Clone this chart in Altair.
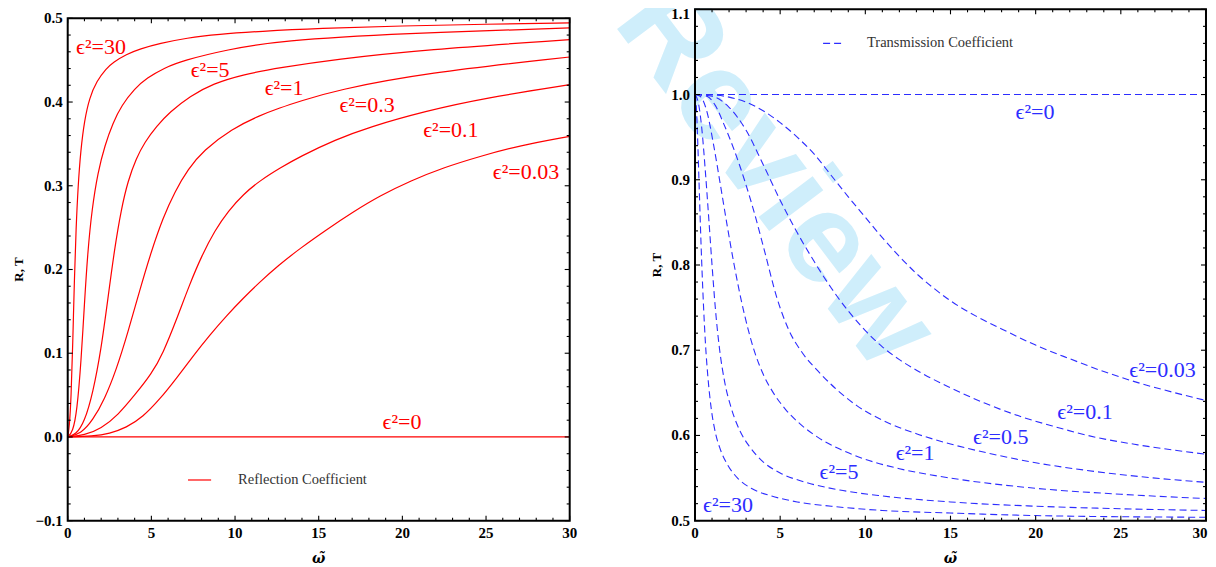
import altair as alt
import pandas as pd

# ---------------- Reflection coefficient R (left panel) ----------------
r_names = ["30", "5", "1", "0.3", "0.1", "0.03", "0"]
r30_x = [0, 0.1, 0.2, 0.3, 0.4, 0.5, 0.62, 0.78, 1.0, 1.3, 1.73, 2.3, 2.72, 3.5, 4.32, 5.5, 7.1, 9, 11.5, 15, 20, 25, 30]
r30_y = [0, 0.012, 0.045, 0.11, 0.19, 0.25, 0.3, 0.343, 0.378, 0.405, 0.425, 0.44, 0.4475, 0.457, 0.4635, 0.47, 0.4765, 0.481, 0.4845, 0.488, 0.491, 0.493, 0.4945]
r5_x = [0, 0.3, 0.55, 0.8, 1.0, 1.2, 1.45, 1.8, 2.23, 2.7, 3.22, 4.0, 4.72, 5.8, 6.9, 9.49, 12.67, 20, 30]
r5_y = [0, 0.006, 0.03, 0.09, 0.16, 0.222, 0.272, 0.316, 0.349, 0.375, 0.396, 0.416, 0.4286, 0.441, 0.4496, 0.4625, 0.4733, 0.482, 0.4885]
r1_x = [0, 0.5, 1.0, 1.5, 2.0, 2.4, 2.8, 3.2, 3.6, 4.1, 4.6, 5.3, 6.1, 7.3, 8.69, 10.5, 12.67, 16, 21.33, 30]
r1_y = [0, 0.003, 0.018, 0.052, 0.105, 0.165, 0.225, 0.272, 0.306, 0.333, 0.352, 0.371, 0.388, 0.407, 0.422, 0.433, 0.441, 0.451, 0.4625, 0.4745]
r03_x = [0, 0.8, 1.5, 2.2, 2.9, 3.6, 4.3, 5.0, 5.7, 6.4, 7.2, 8.1, 9.8, 11.48, 12.67, 13.89, 16, 21.33, 30]
r03_y = [0, 0.004, 0.02, 0.045, 0.08, 0.125, 0.175, 0.222, 0.262, 0.293, 0.32, 0.342, 0.368, 0.384, 0.393, 0.401, 0.414, 0.4347, 0.4538]
r01_x = [0, 1.0, 2.0, 3.0, 4.0, 5.0, 5.7, 6.5, 7.3, 8.0, 8.8, 9.6, 10.5, 11.48, 12.67, 13.89, 16, 18, 21.33, 25, 30]
r01_y = [0, 0.002, 0.01, 0.026, 0.05, 0.075, 0.1, 0.14, 0.183, 0.216, 0.247, 0.27, 0.29, 0.306, 0.321, 0.335, 0.355, 0.37, 0.389, 0.405, 0.4207]
r003_x = [0, 1.5, 2.5, 3.5, 4.5, 5.5, 6.5, 7.5, 8.5, 9.5, 10.5, 11.48, 12.6, 13.87, 15.5, 17, 18.65, 20.5, 22.5, 24.6, 27, 30]
r003_y = [0, 0.001, 0.004, 0.011, 0.024, 0.045, 0.07, 0.097, 0.122, 0.145, 0.166, 0.185, 0.205, 0.225, 0.248, 0.268, 0.288, 0.306, 0.322, 0.335, 0.348, 0.359]
r0_x = [0, 30]
r0_y = [0, 0]

# ---------------- Transmission coefficient T (right panel) ----------------
t_names = ["30", "5", "1", "0.5", "0.1", "0.03", "0"]
t30_x = [0, 0.08, 0.16, 0.24, 0.32, 0.4, 0.5, 0.62, 0.76, 0.95, 1.2, 1.5, 1.9, 2.5, 3.3, 4.5, 6, 8, 11, 15, 20, 30]
t30_y = [1.0, 0.985, 0.945, 0.895, 0.845, 0.8, 0.752, 0.706, 0.668, 0.632, 0.603, 0.583, 0.566, 0.55, 0.538, 0.529, 0.522, 0.517, 0.512, 0.509, 0.506, 0.504]
t5_x = [0, 0.2, 0.4, 0.6, 0.8, 1.0, 1.2, 1.45, 1.75, 2.1, 2.6, 3.2, 4, 5, 6.5, 8.5, 11, 15, 20, 25, 30]
t5_y = [1.0, 0.99, 0.96, 0.912, 0.857, 0.8, 0.748, 0.7, 0.662, 0.634, 0.607, 0.587, 0.569, 0.556, 0.545, 0.536, 0.529, 0.522, 0.517, 0.514, 0.512]
t1_x = [0, 0.3, 0.7, 1.1, 1.5, 1.9, 2.3, 2.7, 3.1, 3.5, 4, 4.6, 5.3, 6.2, 7.2, 8.5, 10, 12, 15, 20, 25, 30]
t1_y = [1.0, 0.998, 0.98, 0.94, 0.893, 0.845, 0.8, 0.76, 0.726, 0.698, 0.672, 0.65, 0.631, 0.613, 0.598, 0.584, 0.572, 0.561, 0.55, 0.538, 0.531, 0.526]
t05_x = [0, 0.7, 1.2, 1.7, 2.3, 2.9, 3.5, 4.1, 4.8, 5.5, 6.3, 7.2, 8.2, 9.5, 11, 13, 15, 17.5, 20, 23, 26, 30]
t05_y = [1.0, 0.998, 0.987, 0.965, 0.935, 0.9, 0.86, 0.815, 0.762, 0.724, 0.697, 0.676, 0.656, 0.635, 0.618, 0.602, 0.59, 0.578, 0.568, 0.559, 0.552, 0.545]
t01_x = [0, 1, 2, 3, 4, 5, 6, 7, 8, 9, 10, 11, 12, 13.5, 15, 17, 19, 21, 23.5, 26, 30]
t01_y = [1.0, 0.998, 0.985, 0.958, 0.918, 0.876, 0.838, 0.804, 0.773, 0.746, 0.723, 0.704, 0.689, 0.671, 0.656, 0.638, 0.623, 0.611, 0.598, 0.589, 0.578]
t003_x = [0, 1, 2, 3, 4, 5, 6, 7, 8, 9, 10, 11, 12, 13, 14, 15, 16.5, 18, 20, 22, 24, 26, 28, 30]
t003_y = [1.0, 0.9995, 0.997, 0.991, 0.981, 0.967, 0.95, 0.93, 0.905, 0.88, 0.856, 0.832, 0.81, 0.79, 0.773, 0.758, 0.74, 0.725, 0.706, 0.69, 0.675, 0.662, 0.651, 0.641]
t0_x = [0, 30]
t0_y = [1.0, 1.0]

# curve labels
r_label_text = ["ϵ²=30", "ϵ²=5", "ϵ²=1", "ϵ²=0.3", "ϵ²=0.1", "ϵ²=0.03", "ϵ²=0"]
r_label_x = [1.99, 8.51, 12.93, 17.89, 22.9, 27.39, 19.98]
r_label_y = [0.466, 0.438, 0.4166, 0.3965, 0.3665, 0.3168, 0.0182]
t_label_text = ["ϵ²=30", "ϵ²=5", "ϵ²=1", "ϵ²=0.5", "ϵ²=0.1", "ϵ²=0.03", "ϵ²=0"]
t_label_x = [1.94, 8.45, 12.92, 17.95, 22.9, 27.45, 19.96]
t_label_y = [0.5184, 0.5575, 0.5794, 0.5985, 0.6279, 0.6768, 0.98]

# axis ticks / tick labels
x_major = [0, 5, 10, 15, 20, 25, 30]
x_minor = [v for v in range(1, 30) if v % 5]
ly_major = [-0.1, 0.0, 0.1, 0.2, 0.3, 0.4, 0.5]
ly_minor = [round(i * 0.02, 2) for i in range(-5, 26) if i % 5]
ry_major = [0.5, 0.6, 0.7, 0.8, 0.9, 1.0, 1.1]
ry_minor = [round(0.5 + i * 0.02, 2) for i in range(0, 31) if i % 5]

SERIF = "Liberation Serif"
RED = "#ff0000"
BLUE = "#2d2dff"


def long_df(names, series):
    rows = []
    for n, (xs, ys) in zip(names, series):
        for a, b in zip(xs, ys):
            rows.append({"eps": n, "x": a, "y": b})
    return pd.DataFrame(rows)


r_df = long_df(r_names, [(r30_x, r30_y), (r5_x, r5_y), (r1_x, r1_y), (r03_x, r03_y),
                         (r01_x, r01_y), (r003_x, r003_y), (r0_x, r0_y)])
t_df = long_df(t_names, [(t30_x, t30_y), (t5_x, t5_y), (t1_x, t1_y), (t05_x, t05_y),
                         (t01_x, t01_y), (t003_x, t003_y), (t0_x, t0_y)])
r_lab = pd.DataFrame({"x": r_label_x, "y": r_label_y, "t": r_label_text})
t_lab = pd.DataFrame({"x": t_label_x, "y": t_label_y, "t": t_label_text})
one = pd.DataFrame({"k": [0]})

W, H = 1138.3, 511.4
LX = alt.Scale(domain=[0, 30], range=[0, 502], nice=False, zero=False)
LY = alt.Scale(domain=[-0.1, 0.5], range=[H, 9.0], nice=False, zero=False)
RX = alt.Scale(domain=[0, 30], range=[627.3, W], nice=False, zero=False)
RY = alt.Scale(domain=[0.5, 1.1], range=[H, 0], nice=False, zero=False)


def XD(v, sc):
    return alt.XDatum(v, scale=sc, axis=None, type="quantitative")


def YD(v, sc):
    return alt.YDatum(v, scale=sc, axis=None, type="quantitative")


def ticks(X, Y, ymin, ymax, y_maj, y_min):
    layers = []
    for vals, ln in ((x_major, 5), (x_minor, 3)):
        d = pd.DataFrame({"v": vals})
        layers.append(alt.Chart(d).mark_rule(color="black", strokeWidth=1.1, y2Offset=-ln).encode(
            x=alt.X("v:Q", scale=X, axis=None), y=YD(ymin, Y), y2=alt.Y2Datum(ymin)))
        layers.append(alt.Chart(d).mark_rule(color="black", strokeWidth=1.1, y2Offset=ln).encode(
            x=alt.X("v:Q", scale=X, axis=None), y=YD(ymax, Y), y2=alt.Y2Datum(ymax)))
    for vals, ln in ((y_maj, 5), (y_min, 3)):
        d = pd.DataFrame({"v": vals})
        layers.append(alt.Chart(d).mark_rule(color="black", strokeWidth=1.1, x2Offset=ln).encode(
            y=alt.Y("v:Q", scale=Y, axis=None), x=XD(0, X), x2=alt.X2Datum(0)))
        layers.append(alt.Chart(d).mark_rule(color="black", strokeWidth=1.1, x2Offset=-ln).encode(
            y=alt.Y("v:Q", scale=Y, axis=None), x=XD(30, X), x2=alt.X2Datum(30)))
    return layers


def tick_labels(X, Y, ymin, y_maj, last_dx, top_dy, title_x, title_y, wx_y):
    out = []
    for vals, dx in ((x_major[:-1], 0), (x_major[-1:], last_dx)):
        out.append(alt.Chart(pd.DataFrame({"v": vals})).mark_text(
            font=SERIF, fontWeight="bold", fontSize=15, color="black", align="center",
            baseline="top", dy=5, dx=dx).encode(
            x=alt.X("v:Q", scale=X, axis=None), y=YD(ymin, Y), text=alt.Text("v:Q", format="d")))
    for vals, dy in ((y_maj[:-1], 0), (y_maj[-1:], top_dy)):
        out.append(alt.Chart(pd.DataFrame({"v": vals})).mark_text(
            font=SERIF, fontWeight="bold", fontSize=15, color="black", align="right",
            baseline="middle", dx=-5, dy=dy).encode(
            x=XD(0, X), y=alt.Y("v:Q", scale=Y, axis=None), text=alt.Text("v:Q", format=".1f")))
    out.append(alt.Chart(one).mark_text(text="R, T", font=SERIF, fontWeight="bold", fontSize=13,
                                        color="black", angle=270, align="center",
                                        baseline="middle").encode(x=XD(title_x, X), y=YD(title_y, Y)))
    out.append(alt.Chart(one).mark_text(text="ω̃", font="DejaVu Serif", fontWeight="bold",
                                        fontStyle="italic", fontSize=14, color="black",
                                        align="center", baseline="middle").encode(
        x=XD(15, X), y=YD(wx_y, Y)))
    return out


def frame(X, Y, ymin, ymax):
    return alt.Chart(one).mark_rect(fill="transparent", stroke="black", strokeWidth=2).encode(
        x=XD(0, X), x2=alt.X2Datum(30), y=YD(ymin, Y), y2=alt.Y2Datum(ymax))


# ---------------- left panel ----------------
left_lines = alt.Chart(r_df).mark_line(color=RED, strokeWidth=1.2, interpolate="basis").encode(
    x=alt.X("x:Q", scale=LX, axis=None),
    y=alt.Y("y:Q", scale=LY, axis=None),
    detail="eps:N",
)
left_labels = alt.Chart(r_lab).mark_text(font=SERIF, fontSize=22, color=RED, align="center",
                                         baseline="middle").encode(
    x=alt.X("x:Q", scale=LX, axis=None), y=alt.Y("y:Q", scale=LY, axis=None), text="t:N")
left_leg_line = alt.Chart(one).mark_rule(color=RED, strokeWidth=1.2).encode(
    x=XD(7.19, LX), x2=alt.X2Datum(8.57), y=YD(-0.0514, LY))
left_leg_text = alt.Chart(one).mark_text(text="Reflection Coefficient", font=SERIF, fontSize=14.5,
                                         color="#333333", align="left", baseline="middle").encode(
    x=XD(10.18, LX), y=YD(-0.0514, LY))

left = alt.layer(left_lines, left_labels, left_leg_line, left_leg_text,
                 *ticks(LX, LY, -0.1, 0.5, ly_major, ly_minor),
                 *tick_labels(LX, LY, -0.1, ly_major, 0, 0, -2.91, 0.2, -0.1455),
                 frame(LX, LY, -0.1, 0.5))

# ---------------- right panel ----------------
watermark = alt.Chart(one).mark_text(text="Review", font="Liberation Sans", fontWeight="bold",
                                     fontSize=128, angle=53, color="#cfeefb", align="center",
                                     baseline="middle").encode(
    x=XD(4.7, RX), y=YD(0.905, RY))
right_lines = alt.Chart(t_df).mark_line(color=BLUE, strokeWidth=1.1, strokeDash=[7, 4],
                                        interpolate="monotone").encode(
    x=alt.X("x:Q", scale=RX, axis=None),
    y=alt.Y("y:Q", scale=RY, axis=None),
    detail="eps:N",
)
right_labels = alt.Chart(t_lab).mark_text(font=SERIF, fontSize=22, color=BLUE, align="center",
                                          baseline="middle").encode(
    x=alt.X("x:Q", scale=RX, axis=None), y=alt.Y("y:Q", scale=RY, axis=None), text="t:N")
right_leg_line = alt.Chart(one).mark_rule(color=BLUE, strokeWidth=1.1, strokeDash=[7, 4]).encode(
    x=XD(7.52, RX), x2=alt.X2Datum(8.81), y=YD(1.06, RY))
right_leg_text = alt.Chart(one).mark_text(text="Transmission Coefficient", font=SERIF,
                                          fontSize=14.5, color="#333333", align="left",
                                          baseline="middle").encode(
    x=XD(10.1, RX), y=YD(1.06, RY))

right = alt.layer(watermark, right_lines, right_labels, right_leg_line, right_leg_text,
                  *ticks(RX, RY, 0.5, 1.1, ry_major, ry_minor),
                  *tick_labels(RX, RY, 0.5, ry_major, -6, 5, -2.23, 0.8, 0.455),
                  frame(RX, RY, 0.5, 1.1))

chart = alt.layer(left, right).resolve_scale(x="independent", y="independent").properties(
    width=W, height=H,
    autosize=alt.AutoSizeParams(type="none"),
    padding={"left": 59.7, "top": 1.3, "right": 2, "bottom": 46},
).configure_view(stroke=None)

chart.save("out.html", embed_options={"renderer": "svg", "actions": False})
